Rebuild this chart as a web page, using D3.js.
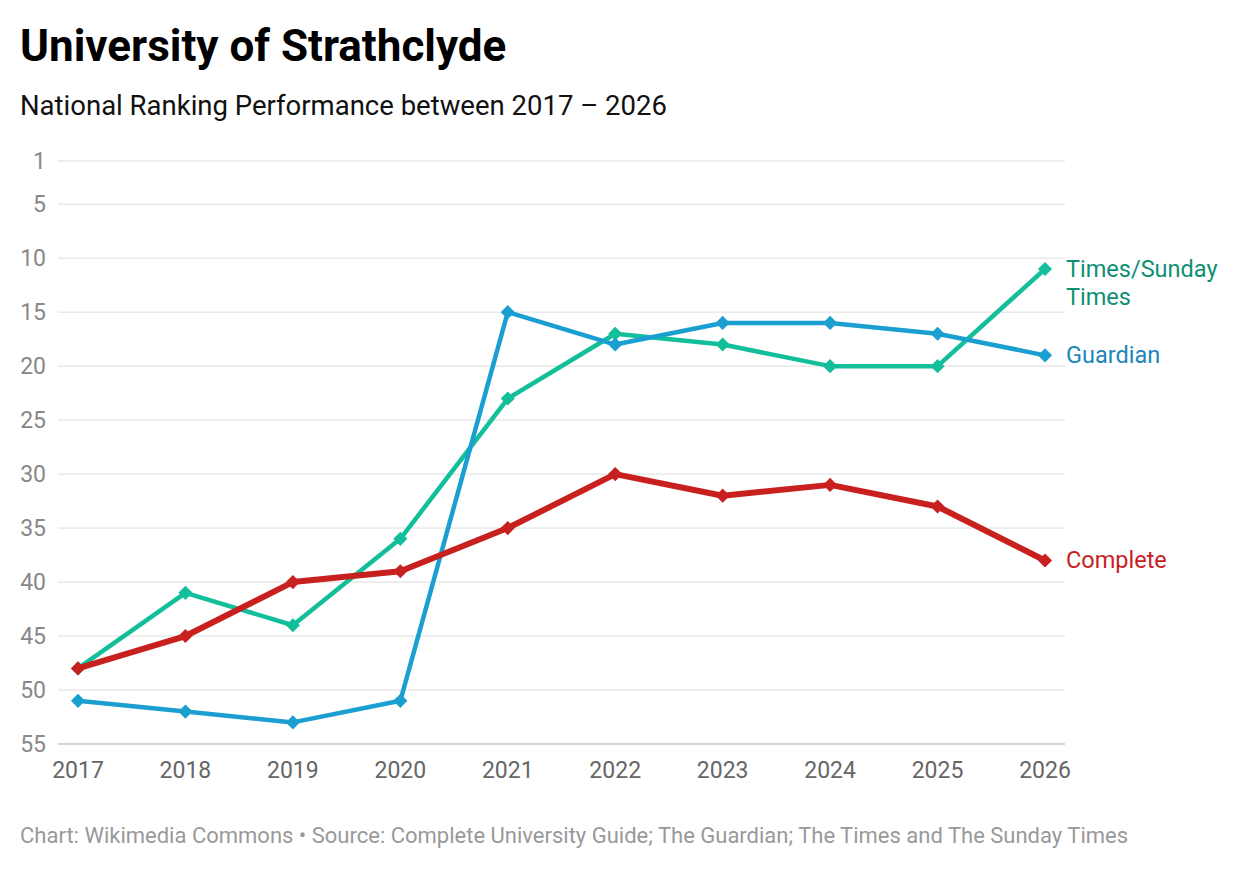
<!DOCTYPE html>
<html><head><meta charset="utf-8">
<script src="https://cdn.jsdelivr.net/npm/d3@7"></script>
<style>body{margin:0;background:#fff;font-family:Roboto,sans-serif}</style>
</head><body><svg id="c" width="1240" height="896"></svg>
<script>
const years=[2017,2018,2019,2020,2021,2022,2023,2024,2025,2026];
const yTicks=[1,5,10,15,20,25,30,35,40,45,50,55];
const times=[48,41,44,36,23,17,18,20,20,11];
const guardian=[51,52,53,51,15,18,16,16,17,19];
const complete=[48,45,40,39,35,30,32,31,33,38];
const series=[
 {name:["Times/Sunday","Times"],vals:times,color:"#13bf9b",label:"#0e8f73",w:4.5},
 {name:["Guardian"],vals:guardian,color:"#1b9fd1",label:"#1a86ba",w:4.5},
 {name:["Complete"],vals:complete,color:"#c81f1f",label:"#c81f1f",w:6}
];
const svg=d3.select("#c");
const x=d3.scalePoint().domain(years).range([78,1045]);
const y=d3.scaleLinear().domain([1,55]).range([161,744]);
svg.append("text").attr("x",20).attr("y",61).attr("font-size",44).attr("font-weight",700).text("University of Strathclyde");
svg.append("text").attr("x",20).attr("y",115).attr("font-size",27.5).attr("fill","#111").text("National Ranking Performance between 2017 – 2026");
const g=svg.append("g");
g.selectAll("line.grid").data(yTicks).join("line").attr("x1",58).attr("x2",1065)
 .attr("y1",d=>y(d)).attr("y2",d=>y(d)).attr("stroke","#ddd").attr("stroke-width",1);
g.append("line").attr("x1",58).attr("x2",1065).attr("y1",744).attr("y2",744).attr("stroke","#bbb");
g.selectAll("text.yt").data(yTicks).join("text").attr("x",46).attr("y",d=>y(d)+8).attr("text-anchor","end")
 .attr("font-size",23).attr("fill","#888").text(d=>d);
g.selectAll("text.xt").data(years).join("text").attr("x",d=>x(d)).attr("y",778).attr("text-anchor","middle")
 .attr("font-size",23).attr("fill","#666").text(d=>d);
const line=d3.line().x((d,i)=>x(years[i])).y(d=>y(d));
series.forEach(s=>{
 g.append("path").datum(s.vals).attr("d",line).attr("fill","none").attr("stroke",s.color).attr("stroke-width",s.w).attr("stroke-linejoin","round");
 g.selectAll(null).data(s.vals).join("path").attr("d",d3.symbol(d3.symbolSquare,100))
  .attr("transform",(d,i)=>`translate(${x(years[i])},${y(d)}) rotate(45)`).attr("fill",s.color);
 const last=s.vals[s.vals.length-1];
 const t=g.append("text").attr("x",1066).attr("y",y(last)+8).attr("font-size",23.5).attr("fill",s.label);
 s.name.forEach((n,i)=>t.append("tspan").attr("x",1066).attr("dy",i?28:0).text(n));
});
svg.append("text").attr("x",20).attr("y",843).attr("font-size",22).attr("fill","#999")
 .text("Chart: Wikimedia Commons • Source: Complete University Guide; The Guardian; The Times and The Sunday Times");
</script></body></html>
